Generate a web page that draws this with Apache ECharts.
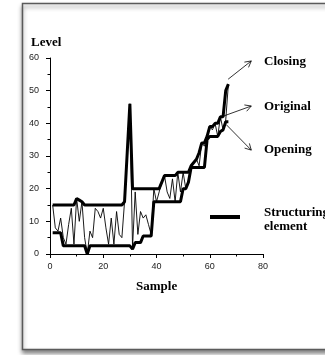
<!DOCTYPE html>
<html><head><meta charset="utf-8">
<script src="https://cdn.jsdelivr.net/npm/echarts@6/dist/echarts.min.js"></script>
<style>html,body{margin:0;padding:0;background:#fff}#c{width:325px;height:355px}</style>
</head><body><div id="c"></div>
<script>
// ---- data ----
const samples = [1,2,3,4,5,6,7,8,9,10,11,12,13,14,15,16,17,18,19,20,21,22,23,24,25,26,27,28,29,30,31,32,33,34,35,36,37,38,39,40,41,42,43,44,45,46,47,48,49,50,51,52,53,54,55,56,57,58,59,60,61,62,63,64,65,66,67];
const original = [15,8,7,11,5,3,9,14,3,17, 10,16,5,0,7,5,14,13,11,14, 8,3,11,3,13,6,5,16,30,46, 2,19,6,13,11,12,9,6,20,16, 19,22,24,19,17,23,16,25,19,25, 20,22,27,28,29,27,34,33,36,39, 38,40,36,42,38,41,52];
const closing  = [15,15,15,15,15,15,15,15,15,17, 16.5,16,15,15,15,15,15,15,15,15, 15,15,15,15,15,15,15,16,31,46, 20,20,20,20,20,20,20,20,20,20, 20,22,24,24,24,24,24,25,25,25, 25,25,27,28,29,31,34,34,36,39, 39,40,40,42,42,50,52];
const opening  = [6.5,6.5,6.5,6.5,2.5,2.5,2.5,2.5,2.5,2.5, 2.5,2.5,2.5,0,2.5,2.5,2.5,2.5,2.5,2.5, 2.5,2.5,2.5,2.5,2.5,2.5,2.5,2.5,2.5,2.5, 1.5,3.5,3.5,3.5,5.5,5.5,5.5,5.5,16,16, 16,16,16,16,16,16,16,16,16,20, 20,22,26.5,26.5,26.5,26.5,26.5,26.5,35,36, 36,36,36,37.5,38,40.5,40.5];
const xTickMin = 0, xTickMax = 80, xTickStep = 20;
const yTickMin = 0, yTickMax = 60, yTickStep = 10;
const seriesNames = ['Closing', 'Original', 'Opening'];
const legendText = ['Structuring', 'element'];
const xTitle = 'Sample', yTitle = 'Level';

const pairs = v => samples.map((s, i) => [s, v[i]]);
const serif = '"Liberation Serif", "Times New Roman", serif';
const sans = '"Liberation Sans", Arial, sans-serif';

const chart = echarts.init(document.getElementById('c'), null, {renderer: 'canvas'});

const axisCommon = {
  axisLine: {show: true, lineStyle: {color: '#000', width: 1}},
  axisTick: {show: true, inside: false, length: 4, lineStyle: {color: '#000'}},
  minorTick: {show: true, splitNumber: 2, length: 2.5, lineStyle: {color: '#000'}},
  splitLine: {show: false},
  axisLabel: {color: '#222', fontFamily: sans, fontSize: 9}
};

const txt = (id, x, y, t) => ({type: 'text', id, left: x, top: y, z: 10,
  style: {text: t, font: 'bold 13px ' + serif, fill: '#000', textVerticalAlign: 'middle'}});

chart.setOption({
  animation: false,
  backgroundColor: '#fff',
  grid: {left: 50, top: 58, width: 213, height: 196, containLabel: false},
  xAxis: Object.assign({}, axisCommon, {type: 'value', min: xTickMin, max: xTickMax, interval: xTickStep,
    axisLabel: Object.assign({}, axisCommon.axisLabel, {margin: 8})}),
  yAxis: Object.assign({}, axisCommon, {type: 'value', min: yTickMin, max: yTickMax, interval: yTickStep,
    axisLabel: Object.assign({}, axisCommon.axisLabel, {margin: 11})}),
  series: [
    {name: seriesNames[1], type: 'line', data: pairs(original), symbol: 'none', z: 2,
     lineStyle: {color: '#000', width: 0.9}},
    {name: seriesNames[0], type: 'line', data: pairs(closing), symbol: 'none', z: 3,
     lineStyle: {color: '#000', width: 3}},
    {name: seriesNames[2], type: 'line', data: pairs(opening), symbol: 'none', z: 3,
     lineStyle: {color: '#000', width: 3}}
  ],
  graphic: {elements: [
    {type: 'rect', id: 'frame', z: -10, shape: {x: 22.5, y: 3.5, width: 320, height: 346},
     style: {fill: '#fff', stroke: '#5a5a5a', lineWidth: 1.5,
       shadowBlur: 4, shadowOffsetX: 0, shadowOffsetY: 3, shadowColor: 'rgba(0,0,0,0.45)'}},
    {type: 'text', id: 'ytitle', left: 31, top: 36, z: 10,
     style: {text: yTitle, font: 'bold 13px ' + serif, fill: '#000'}},
    {type: 'text', id: 'xtitle', left: 136, top: 280, z: 10,
     style: {text: xTitle, font: 'bold 13px ' + serif, fill: '#000'}},
    txt('l0', 264, 55, seriesNames[0]),
    txt('l1', 264, 100, seriesNames[1]),
    txt('l2', 264, 143, seriesNames[2]),
    txt('l3', 264, 206, legendText[0]),
    txt('l4', 264, 220, legendText[1]),
    {type: 'line', id: 'se', z: 10, shape: {x1: 210, y1: 217, x2: 240, y2: 217},
     style: {stroke: '#000', lineWidth: 4}}
  ]}
});

// annotation arrows (start/end in data coordinates)
const arrows = [
  {from: [66.9, 53.5], to: [75.6, 59.1]},
  {from: [64.4, 42.0], to: [75.6, 45.3]},
  {from: [66.2, 39.6], to: [75.6, 31.8]}
];
const arrowEls = [];
arrows.forEach((a, i) => {
  const p0 = chart.convertToPixel({gridIndex: 0}, a.from);
  const p1 = chart.convertToPixel({gridIndex: 0}, a.to);
  const ang = Math.atan2(p1[1] - p0[1], p1[0] - p0[0]);
  const L = 7, h = 0.5;
  const hA = [p1[0] - L * Math.cos(ang - h), p1[1] - L * Math.sin(ang - h)];
  const hB = [p1[0] - L * Math.cos(ang + h), p1[1] - L * Math.sin(ang + h)];
  arrowEls.push({type: 'line', id: 'ar' + i, z: 10, shape: {x1: p0[0], y1: p0[1], x2: p1[0], y2: p1[1]},
    style: {stroke: '#000', lineWidth: 0.8}});
  arrowEls.push({type: 'polyline', id: 'ah' + i, z: 10, shape: {points: [hA, p1, hB]},
    style: {stroke: '#000', lineWidth: 0.8, fill: null}});
});
chart.setOption({graphic: {elements: arrowEls}});
</script>
</body></html>
